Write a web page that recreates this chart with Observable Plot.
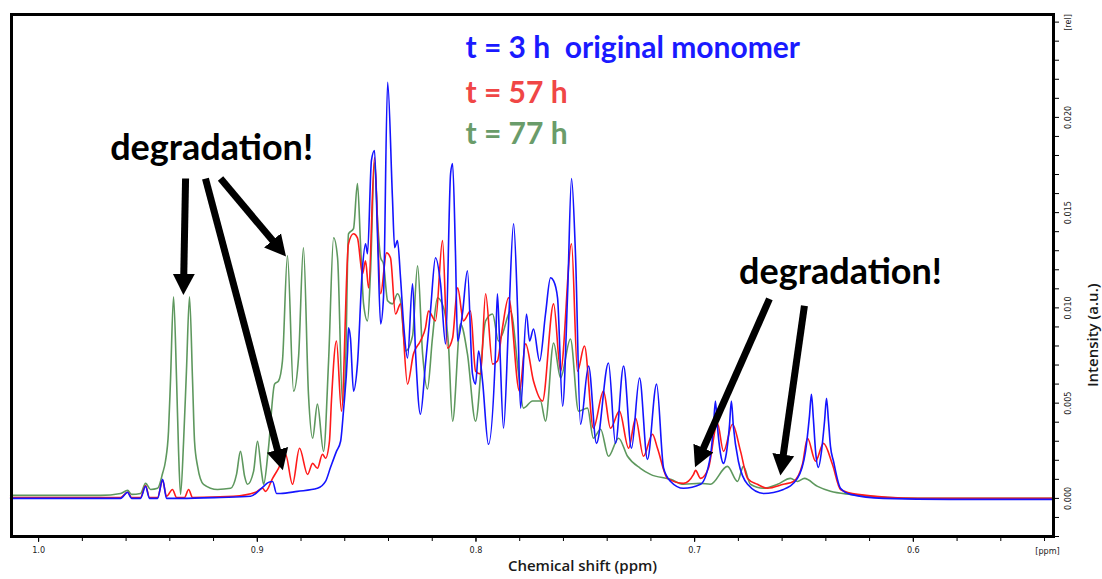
<!DOCTYPE html>
<html><head><meta charset="utf-8">
<script src="https://cdn.jsdelivr.net/npm/d3@7"></script>
<script src="https://cdn.jsdelivr.net/npm/@observablehq/plot@0.6"></script>
<style>html,body{margin:0;padding:0;background:#fff;} #chart svg{display:block;}</style>
</head><body><div id="chart"></div>
<script>
// Spectra: [chemical shift (ppm), intensity (a.u.)]
const t3h = [[1.0128,0],[0.9900,0],[0.9717,0],[0.9625,0],[0.9593,0.00032],[0.9575,0],[0.9534,0],[0.9511,0.00063],[0.9493,0],[0.9456,0],[0.9433,0.00100],[0.9415,0],[0.9351,0],[0.9168,0.00005],[0.9031,0.00011],[0.8976,0.00058],[0.8949,0.00084],[0.8930,0.00089],[0.8912,0.00026],[0.8894,0.00026],[0.8816,0.00037],[0.8725,0.00053],[0.8688,0.00089],[0.8665,0.00163],[0.8638,0.00247],[0.8619,0.00300],[0.8606,0.00458],[0.8587,0.00774],[0.8583,0.00895],[0.8574,0.00842],[0.8560,0.00563],[0.8542,0.00705],[0.8519,0.01211],[0.8505,0.01337],[0.8496,0.01284],[0.8478,0.01774],[0.8464,0.01826],[0.8450,0.01368],[0.8436,0.00916],[0.8423,0.01053],[0.8404,0.02184],[0.8382,0.01579],[0.8372,0.01316],[0.8359,0.01353],[0.8345,0.01158],[0.8331,0.00916],[0.8313,0.00737],[0.8290,0.01126],[0.8276,0.00758],[0.8254,0.00442],[0.8231,0.00705],[0.8208,0.00984],[0.8185,0.01263],[0.8162,0.01126],[0.8139,0.00811],[0.8116,0.01705],[0.8107,0.01758],[0.8094,0.01300],[0.8084,0.00826],[0.8062,0.00968],[0.8039,0.01195],[0.8016,0.00653],[0.8002,0.00600],[0.7988,0.00774],[0.7970,0.00616],[0.7943,0.00284],[0.7911,0.00758],[0.7902,0.01074],[0.7892,0.00826],[0.7874,0.00368],[0.7851,0.00916],[0.7828,0.01442],[0.7810,0.01000],[0.7796,0.00474],[0.7769,0.00968],[0.7755,0.00826],[0.7737,0.00889],[0.7709,0.00721],[0.7682,0.00968],[0.7659,0.01158],[0.7645,0.01142],[0.7627,0.01053],[0.7604,0.00484],[0.7581,0.01074],[0.7563,0.01679],[0.7545,0.01284],[0.7522,0.00389],[0.7485,0.00695],[0.7449,0.00289],[0.7394,0.00711],[0.7362,0.00289],[0.7325,0.00695],[0.7289,0.00263],[0.7252,0.00632],[0.7216,0.00205],[0.7174,0.00600],[0.7142,0.00158],[0.7110,0.00089],[0.7051,0.00053],[0.6973,0.00074],[0.6928,0.00221],[0.6914,0.00379],[0.6905,0.00511],[0.6896,0.00379],[0.6882,0.00237],[0.6868,0.00184],[0.6855,0.00237],[0.6841,0.00379],[0.6832,0.00511],[0.6823,0.00379],[0.6800,0.00195],[0.6758,0.00074],[0.6685,0.00026],[0.6594,0.00047],[0.6530,0.00105],[0.6493,0.00247],[0.6475,0.00432],[0.6466,0.00547],[0.6457,0.00416],[0.6447,0.00247],[0.6434,0.00163],[0.6420,0.00247],[0.6406,0.00405],[0.6397,0.00526],[0.6388,0.00405],[0.6379,0.00274],[0.6365,0.00195],[0.6333,0.00053],[0.6287,0.00021],[0.6137,0],[0.5830,-0.00005],[0.5524,-0.00005],[0.5364,-0.00005]];

const t57h = [[1.0128,0.00005],[0.9900,0.00005],[0.9717,0.00005],[0.9625,0.00005],[0.9593,0.00032],[0.9575,0.00005],[0.9534,0.00005],[0.9511,0.00068],[0.9493,0.00005],[0.9456,0.00005],[0.9433,0.00095],[0.9415,0.00011],[0.9388,0.00047],[0.9369,0.00005],[0.9333,0.00005],[0.9314,0.00047],[0.9296,0.00005],[0.9109,0.00011],[0.9008,0.00032],[0.8976,0.00053],[0.8962,0.00037],[0.8930,0.00105],[0.8903,0.00158],[0.8871,0.00232],[0.8839,0.00074],[0.8807,0.00263],[0.8770,0.00126],[0.8747,0.00184],[0.8725,0.00158],[0.8702,0.00232],[0.8688,0.00211],[0.8670,0.00300],[0.8661,0.00511],[0.8638,0.00826],[0.8615,0.00458],[0.8583,0.01337],[0.8560,0.01389],[0.8542,0.01368],[0.8519,0.01179],[0.8505,0.01247],[0.8491,0.01105],[0.8464,0.01789],[0.8436,0.01074],[0.8409,0.01289],[0.8391,0.01263],[0.8368,0.00968],[0.8345,0.01021],[0.8313,0.00600],[0.8286,0.00758],[0.8254,0.00826],[0.8231,0.00895],[0.8217,0.00984],[0.8185,0.00932],[0.8153,0.01353],[0.8130,0.00789],[0.8107,0.00842],[0.8084,0.01105],[0.8057,0.00932],[0.8025,0.00984],[0.8002,0.00668],[0.7979,0.00653],[0.7956,0.01074],[0.7924,0.00705],[0.7902,0.00721],[0.7879,0.00895],[0.7851,0.01053],[0.7801,0.00563],[0.7773,0.00811],[0.7737,0.00616],[0.7696,0.00511],[0.7645,0.01021],[0.7613,0.00668],[0.7563,0.01337],[0.7536,0.00668],[0.7504,0.00800],[0.7463,0.00368],[0.7417,0.00563],[0.7385,0.00368],[0.7344,0.00458],[0.7302,0.00263],[0.7270,0.00421],[0.7234,0.00221],[0.7193,0.00337],[0.7170,0.00263],[0.7124,0.00105],[0.7051,0.00079],[0.7005,0.00126],[0.6996,0.00147],[0.6973,0.00105],[0.6937,0.00158],[0.6896,0.00395],[0.6868,0.00247],[0.6827,0.00389],[0.6790,0.00247],[0.6758,0.00105],[0.6713,0.00074],[0.6667,0.00053],[0.6594,0.00074],[0.6548,0.00089],[0.6507,0.00179],[0.6484,0.00316],[0.6447,0.00195],[0.6411,0.00289],[0.6370,0.00179],[0.6333,0.00047],[0.6255,0.00021],[0.5981,0],[0.5364,0]];

const t77h = [[1.0128,0.00016],[0.9900,0.00016],[0.9717,0.00016],[0.9625,0.00026],[0.9593,0.00042],[0.9575,0.00021],[0.9534,0.00026],[0.9511,0.00079],[0.9488,0.00047],[0.9456,0.00053],[0.9433,0.00132],[0.9420,0.00195],[0.9406,0.00353],[0.9397,0.00616],[0.9383,0.01058],[0.9369,0.00616],[0.9360,0.00247],[0.9351,0.00021],[0.9337,0.00300],[0.9324,0.00668],[0.9310,0.01058],[0.9296,0.00616],[0.9287,0.00300],[0.9273,0.00168],[0.9246,0.00074],[0.9182,0.00047],[0.9122,0.00053],[0.9095,0.00126],[0.9077,0.00247],[0.9058,0.00116],[0.9045,0.00074],[0.9017,0.00142],[0.8999,0.00300],[0.8981,0.00142],[0.8971,0.00074],[0.8949,0.00263],[0.8921,0.00600],[0.8903,0.00616],[0.8885,0.00721],[0.8862,0.01274],[0.8834,0.00563],[0.8811,0.00747],[0.8789,0.01316],[0.8766,0.00547],[0.8747,0.00316],[0.8725,0.00495],[0.8697,0.00247],[0.8674,0.00721],[0.8651,0.01368],[0.8633,0.01263],[0.8610,0.00500],[0.8597,0.00668],[0.8583,0.01389],[0.8560,0.01416],[0.8542,0.01653],[0.8528,0.01337],[0.8514,0.01021],[0.8496,0.00932],[0.8482,0.01195],[0.8464,0.01763],[0.8450,0.01458],[0.8436,0.01263],[0.8423,0.01232],[0.8404,0.01037],[0.8382,0.01021],[0.8359,0.01074],[0.8345,0.01037],[0.8322,0.00774],[0.8290,0.00853],[0.8267,0.01221],[0.8244,0.00758],[0.8222,0.00574],[0.8199,0.00842],[0.8176,0.01053],[0.8148,0.01000],[0.8126,0.00811],[0.8107,0.00405],[0.8071,0.00916],[0.8039,0.00758],[0.8002,0.00405],[0.7956,0.00932],[0.7924,0.00968],[0.7897,0.00826],[0.7879,0.00863],[0.7842,0.00984],[0.7805,0.00653],[0.7783,0.00474],[0.7741,0.00511],[0.7705,0.00511],[0.7682,0.00405],[0.7645,0.00816],[0.7613,0.00632],[0.7568,0.00837],[0.7531,0.00458],[0.7490,0.00474],[0.7463,0.00316],[0.7430,0.00363],[0.7394,0.00221],[0.7348,0.00316],[0.7307,0.00221],[0.7248,0.00158],[0.7202,0.00126],[0.7110,0.00100],[0.7051,0.00074],[0.6973,0.00079],[0.6928,0.00074],[0.6850,0.00168],[0.6804,0.00089],[0.6777,0.00168],[0.6745,0.00074],[0.6685,0.00053],[0.6621,0.00074],[0.6562,0.00105],[0.6530,0.00089],[0.6498,0.00105],[0.6438,0.00063],[0.6379,0.00037],[0.6287,0.00021],[0.5981,0],[0.5364,0]];

const seriesLabels = ["t = 3 h\u00a0 original monomer", "t = 57 h", "t = 77 h"];
const legendPos = [[0.8048, 0.02363], [0.8048, 0.02126], [0.8048, 0.01911]];

const noteText = "degradation!";
const notePos = [[0.9209, 0.01837], [0.6333, 0.01184]];
// arrows: [ppm start, int start, ppm end, int end]
const arrows = [
  [0.9328, 0.01679, 0.9337, 0.01126],
  [0.9237, 0.01679, 0.8896, 0.00204],
  [0.9168, 0.01679, 0.8901, 0.01314],
  [0.6658, 0.01047, 0.6978, 0.00216],
  [0.6498, 0.01011, 0.6601, 0.00178]
];

const xDomain = [1.0124, 0.5359];
const yDomain = [-0.002, 0.0254];
const xTickLabels = [1.0, 0.9, 0.8, 0.7, 0.6];
const xMinorTicks = [1.0,0.98,0.96,0.94,0.92,0.9,0.88,0.86,0.84,0.82,0.8,0.78,0.76,0.74,0.72,0.7,0.68,0.66,0.64,0.62,0.6,0.58,0.56,0.54];
const yTickLabels = [0.000, 0.005, 0.010, 0.015, 0.020];
const yMinorTicks = [-0.002,-0.001,0,0.001,0.002,0.003,0.004,0.005,0.006,0.007,0.008,0.009,0.010,0.011,0.012,0.013,0.014,0.015,0.016,0.017,0.018,0.019,0.020,0.021,0.022,0.023,0.024,0.025];
const xTitle = "Chemical shift (ppm)";
const yTitle = "Intensity (a.u.)";
const xUnit = "[ppm]";
const yUnit = "[rel]";

const lineColors = ["#1414ff", "#ff1a1a", "#5e985e"];
const textColors = ["#1a1aff", "#f04646", "#6a9c6a"];
const bigFont = "Lato, 'Open Sans', sans-serif";
const smallFont = "'DejaVu Sans Condensed', 'DejaVu Sans', sans-serif";

const P = d => d[0], I = d => d[1];

const chart = Plot.plot({
  width: 1102, height: 579,
  marginLeft: 11, marginRight: 49, marginTop: 14, marginBottom: 43,
  style: {background: "#fff", fontFamily: smallFont, overflow: "visible"},
  x: {domain: xDomain},
  y: {domain: yDomain},
  marks: [
    Plot.line(t77h, {x: P, y: I, stroke: lineColors[2], strokeWidth: 1.6, curve: "monotone-x"}),
    Plot.line(t57h, {x: P, y: I, stroke: lineColors[1], strokeWidth: 1.6, curve: "monotone-x"}),
    Plot.line(t3h, {x: P, y: I, stroke: lineColors[0], strokeWidth: 1.6, curve: "monotone-x"}),
    Plot.frame({stroke: "#000", strokeWidth: 3}),
    Plot.axisX(xMinorTicks, {anchor: "bottom", tickSize: 5, tickFormat: () => "", label: null, stroke: "#000"}),
    Plot.axisX(xTickLabels, {anchor: "bottom", tickSize: 6, tickPadding: 4, tickFormat: d3.format(".1f"), label: null, fontSize: 9, fill: "#222", stroke: "#000"}),
    Plot.axisY(yMinorTicks, {anchor: "right", tickSize: 5, tickFormat: () => "", label: null, stroke: "#000"}),
    Plot.text(yTickLabels, {y: d => d, frameAnchor: "right", dx: 11, rotate: -90, text: d3.format(".3f"), textAnchor: "middle", lineAnchor: "top", fontSize: 9, fill: "#222"}),
    Plot.text([xUnit], {frameAnchor: "bottom-right", dx: -6, dy: 11, lineAnchor: "top", textAnchor: "middle", fontSize: 9, fill: "#222"}),
    Plot.text([yUnit], {frameAnchor: "top-right", dx: 11, dy: 8, rotate: -90, lineAnchor: "top", textAnchor: "middle", fontSize: 9, fill: "#222"}),
    Plot.text([xTitle], {frameAnchor: "bottom", dx: 50, dy: 34, fontSize: 15, fontFamily: "'Open Sans', sans-serif", fontWeight: 600, fill: "#1a1a1a"}),
    Plot.text([yTitle], {frameAnchor: "right", dx: 40, dy: 8, rotate: -90, fontSize: 15, fontFamily: "'Open Sans', sans-serif", fontWeight: 600, fill: "#1a1a1a"}),
    Plot.link(arrows, {x1: d => d[0], y1: d => d[1], x2: d => d[2], y2: d => d[3], stroke: "#000", strokeWidth: 7}),
    Plot.text(notePos, {x: P, y: I, text: () => noteText, fontSize: 36, fontWeight: "bold", fontFamily: bigFont, fill: "#000"}),
    ...seriesLabels.map((s, i) => Plot.text([legendPos[i]], {x: P, y: I, text: () => s, textAnchor: "start", fontSize: 30, fontWeight: "bold", fontFamily: bigFont, fill: textColors[i]}))
  ]
});

// filled triangular arrowheads for the annotation arrows
const ns = "http://www.w3.org/2000/svg";
const defs = document.createElementNS(ns, "defs");
const marker = document.createElementNS(ns, "marker");
marker.setAttribute("id", "ahead");
marker.setAttribute("markerUnits", "userSpaceOnUse");
marker.setAttribute("viewBox", "0 -12 22 24");
marker.setAttribute("markerWidth", "22");
marker.setAttribute("markerHeight", "24");
marker.setAttribute("refX", "10");
marker.setAttribute("refY", "0");
marker.setAttribute("orient", "auto");
const head = document.createElementNS(ns, "path");
head.setAttribute("d", "M0,-11L21,0L0,11Z");
head.setAttribute("fill", "#000");
marker.appendChild(head);
defs.appendChild(marker);
chart.insertBefore(defs, chart.firstChild);
chart.querySelectorAll('g[aria-label="link"] path').forEach(p => p.setAttribute("marker-end", "url(#ahead)"));

document.getElementById("chart").appendChild(chart);
</script>
</body></html>
